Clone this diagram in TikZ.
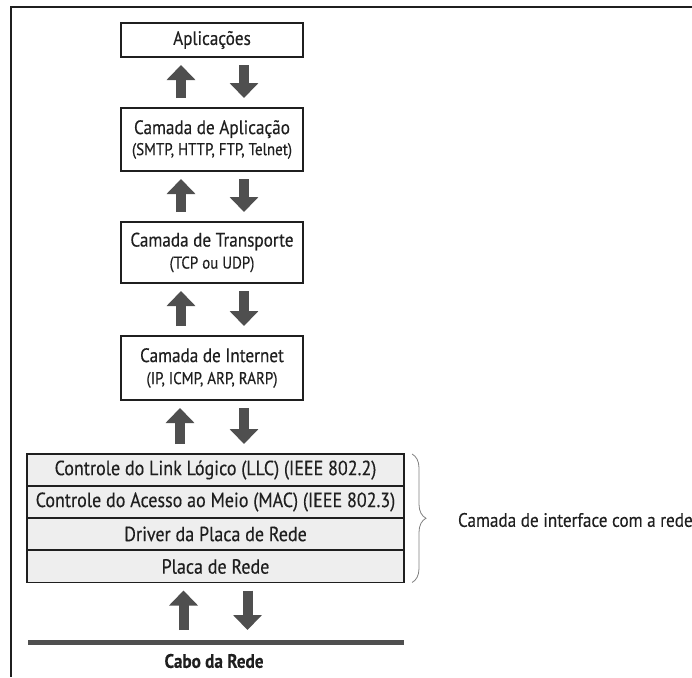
\documentclass[tikz,border=0pt]{standalone}
\usepackage{fontspec}
\setmainfont[FakeStretch=0.88,FakeBold=0.3]{PT Sans}
\usetikzlibrary{arrows.meta,decorations.pathreplacing}

\definecolor{ink}{HTML}{1F1F1F}
\definecolor{arrowgray}{HTML}{4F4F4F}
\definecolor{cellfill}{HTML}{EEEEEE}

\begin{document}
\begin{tikzpicture}[x=1pt,y=-1pt,
  every node/.style={text=ink, inner sep=0pt, outer sep=0pt},
  layerbox/.style={draw=ink, line width=1.8pt, fill=white,
    minimum width=182pt, align=center,
    font=\fontsize{19.5}{22}\selectfont},
  stackrow/.style={draw=ink, line width=1.6pt, fill=cellfill,
    minimum width=377pt, minimum height=32pt,
    font=\fontsize{20.5}{24}\selectfont},
  flowup/.style={arrowgray, line width=10pt,
    -{Triangle[width=28pt,length=15pt]}},
  flowdown/.style={arrowgray, line width=10pt,
    -{Triangle[width=28pt,length=15pt]}},
]
\useasboundingbox (0,0) rectangle (692,677);

% outer frame (top and left edges)
\draw[ink, line width=2pt] (692,7) -- (11,7) -- (11,677);

% protocol layers
\node[layerbox, minimum height=34pt] (apps) at (212,40) {Aplicações};
\node[layerbox, minimum height=63pt] (app) at (212,139.5)
  {Camada de Aplicação\\[-1pt]{\fontsize{17}{20}\selectfont (SMTP, HTTP, FTP, Telnet)}};
\node[layerbox, minimum height=61pt] (trans) at (212,252.5)
  {Camada de Transporte\\[0pt]{\fontsize{17}{20}\selectfont (TCP ou UDP)}};
\node[layerbox, minimum height=64pt] (inet) at (212,368)
  {Camada de Internet\\[0pt]{\fontsize{17}{20}\selectfont (IP, ICMP, ARP, RARP)}};

% network interface stack
\node[stackrow] (llc) at (215.5,470) {Controle do Link Lógico (LLC) (IEEE 802.2)};
\node[stackrow] (mac) at (215.5,502) {Controle do Acesso ao Meio (MAC) (IEEE 802.3)};
\node[stackrow] (drv) at (215.5,534) {Driver da Placa de Rede};
\node[stackrow] (nic) at (215.5,566.5) {Placa de Rede};

% network cable
\node[fill=arrowgray, minimum width=376pt, minimum height=5pt] (cable) at (216,642.5) {};
\node[font=\bfseries\fontsize{19.5}{22}\selectfont] (cablelbl) at (214,661) {Cabo da Rede};

% up and down flows between layers
\foreach \lo/\hi in {app/apps, trans/app, inet/trans}{
  \draw[flowup, shorten <=10pt, shorten >=8pt]
    ([xshift=-31pt]\lo.north) -- ([xshift=-31pt]\hi.south);
  \draw[flowdown, shorten <=8pt, shorten >=10pt]
    ([xshift=32pt]\hi.south) -- ([xshift=32pt]\lo.north);
}
\foreach \lo/\hi in {llc/inet, cable/nic}{
  \draw[flowup, shorten <=10pt, shorten >=8pt]
    ([xshift=-32pt]\hi.south |- \lo.north) -- ([xshift=-32pt]\hi.south);
  \draw[flowdown, shorten <=8pt, shorten >=10pt]
    ([xshift=32pt]\hi.south) -- ([xshift=32pt]\hi.south |- \lo.north);
}

% brace grouping the interface layers
\coordinate (bracetop) at ([xshift=8pt]llc.north east);
\coordinate (bracebot) at ([xshift=8pt]nic.south east);
\draw[gray, line width=0.8pt, decorate, decoration={brace, amplitude=14pt}]
  (bracetop) -- (bracebot);
\node[anchor=west, font=\fontsize{19.5}{22}\selectfont] (iface) at (458,520)
  {Camada de interface com a rede};
\end{tikzpicture}
\end{document}
